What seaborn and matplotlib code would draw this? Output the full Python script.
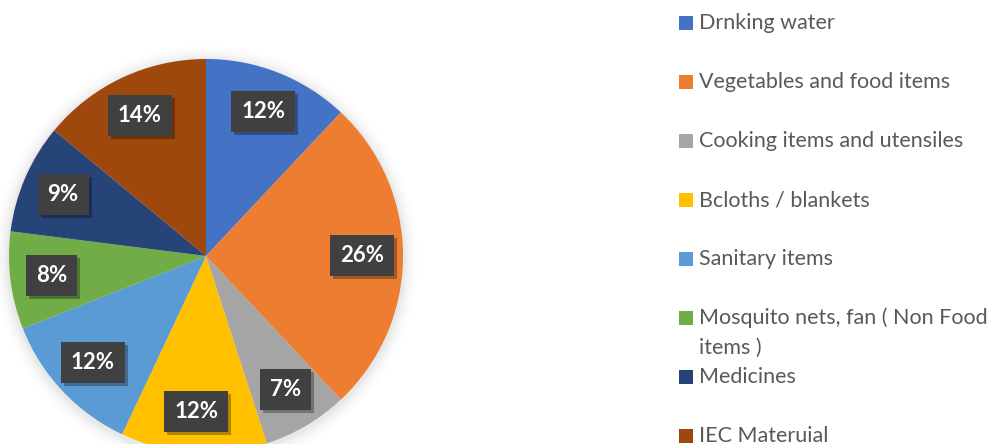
import textwrap
import matplotlib
matplotlib.use("Agg")
import matplotlib.pyplot as plt
import matplotlib.patches as mpatches
import matplotlib.transforms as mtransforms
import seaborn as sns

categories = ["Drnking water", "Vegetables and food items", "Cooking items and utensiles",
              "Bcloths / blankets", "Sanitary items", "Mosquito nets, fan ( Non Food items )",
              "Medicines", "IEC Materuial"]
values = [12, 26, 7, 12, 12, 8, 9, 14]
colors = ["#4472C4", "#ED7D31", "#A5A5A5", "#FFC000", "#5B9BD5", "#70AD47", "#264478", "#9E480E"]

sns.set_theme(style="white")
plt.rcParams['font.family'] = ['Lato', 'DejaVu Sans']

W, H = 1004, 444
fig = plt.figure(figsize=(W / 100, H / 100), dpi=100)
fig.patch.set_facecolor("white")

# pie axes: center (206,256) px from top-left, radius 197 px
cx, cy, r = 206, 256, 197
ax = fig.add_axes([(cx - r) / W, (H - cy - r) / H, 2 * r / W, 2 * r / H])

wedges, texts, autotexts = ax.pie(
    values, colors=colors, startangle=90, counterclock=False,
    autopct=lambda p: f"{p:.0f}%", pctdistance=0.79, radius=1.0,
    wedgeprops=dict(linewidth=0),
    textprops=dict(color="white", fontsize=16, fontweight="bold"),
)
for t in autotexts:
    t.set_bbox(dict(boxstyle="square,pad=0.45", facecolor="#404040", edgecolor="none"))
    t.set_zorder(5)

# soft shadow around the pie
for i, a in enumerate([0.03, 0.022, 0.015, 0.01, 0.006]):
    ax.add_patch(mpatches.Circle((0.0, -0.01), 1.0 + 0.015 * (i + 1), color="black",
                                 alpha=a, lw=0, zorder=0, clip_on=False))

ax.set_xlim(-1, 1)
ax.set_ylim(-1, 1)
ax.set_aspect("equal")
ax.axis("off")

# drop shadows of the label boxes (in pixel coordinates, below the labels)
fig.canvas.draw()
for t in autotexts:
    bb = t.get_bbox_patch().get_window_extent()
    ax.add_patch(mpatches.Rectangle((bb.x0 + 3, bb.y0 - 3), bb.width, bb.height,
                                    transform=mtransforms.IdentityTransform(), facecolor="black",
                                    alpha=0.3, edgecolor="none", zorder=4, clip_on=False))

# legend drawn manually to match spacing
x_sq, x_txt = 679, 699
y0, dy = 23, 59
for i, (lab, col) in enumerate(zip(categories, colors)):
    y = y0 + i * dy
    fig.patches.append(mpatches.Rectangle((x_sq / W, 1 - (y + 7) / H), 14 / W, 14 / H,
                                          transform=fig.transFigure, facecolor=col, edgecolor="none"))
    for k, line in enumerate(textwrap.wrap(lab, 29)):
        fig.text(x_txt / W, 1 - (y + k * 30) / H, line, fontsize=15.5, color="#595959",
                 va="center", ha="left")

fig.savefig("out.png", dpi=100)
